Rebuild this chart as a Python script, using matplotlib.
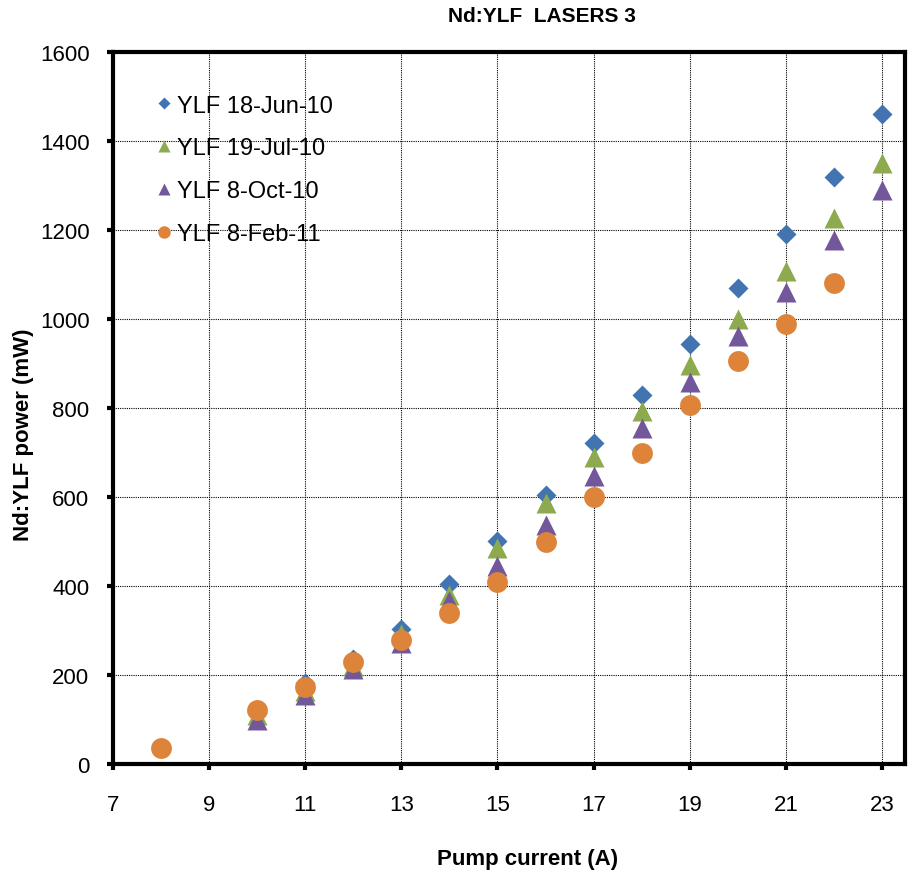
import numpy as np
import matplotlib
matplotlib.use('Agg')
import matplotlib.pyplot as plt

plt.rcParams['font.family'] = ['Liberation Sans', 'DejaVu Sans']

# data
x_jun = [10, 11, 12, 13, 14, 15, 16, 17, 18, 19, 20, 21, 22, 23]
p_jun = [115, 183, 237, 305, 406, 501, 606, 722, 830, 945, 1071, 1192, 1320, 1460]
x_jul = [10, 11, 12, 13, 14, 15, 16, 17, 18, 19, 20, 21, 22, 23]
p_jul = [110, 165, 222, 292, 380, 485, 588, 690, 793, 898, 1000, 1109, 1228, 1350]
x_oct = [10, 11, 12, 13, 14, 15, 16, 17, 18, 19, 20, 21, 22, 23]
p_oct = [100, 155, 215, 272, 366, 445, 538, 648, 756, 859, 962, 1061, 1178, 1290]
x_feb = [8, 10, 11, 12, 13, 14, 15, 16, 17, 18, 19, 20, 21, 22]
p_feb = [37, 122, 174, 229, 279, 341, 410, 500, 600, 700, 808, 905, 988, 1081]

labels = ['YLF 18-Jun-10', 'YLF 19-Jul-10', 'YLF 8-Oct-10', 'YLF 8-Feb-11']
xticks = [7, 9, 11, 13, 15, 17, 19, 21, 23]
yticks = [0, 200, 400, 600, 800, 1000, 1200, 1400, 1600]

fig = plt.figure(figsize=(9.09, 8.78), dpi=100)
ax = fig.add_axes([0.1243, 0.1283, 0.8713, 0.8113])

ax.plot(x_jun, p_jun, 'D', color='#4174B0', ms=10, mec='none', label=labels[0])
ax.plot(x_jul, p_jul, '^', color='#8DAA4E', ms=14, mec='none', label=labels[1])
ax.plot(x_oct, p_oct, '^', color='#72589A', ms=14, mec='none', label=labels[2])
ax.plot(x_feb, p_feb, 'o', color='#DD843A', ms=15, mec='none', label=labels[3])

ax.set_xlim(7, 23.48)
ax.set_ylim(0, 1600)
ax.set_xticks(xticks)
ax.set_yticks(yticks)
ax.grid(True, color='black', linestyle=(0, (1, 1)), linewidth=0.8)
ax.set_axisbelow(True)

for s in ax.spines.values():
    s.set_linewidth(3)
ax.tick_params(direction='out', length=4, width=3, labelsize=16)
ax.tick_params(axis='x', pad=17)
ax.tick_params(axis='y', pad=13)

ax.set_xlabel('Pump current (A)', fontsize=16, fontweight='bold', va='center')
ax.xaxis.set_label_coords(0.523, -0.132)
ax.set_ylabel('Nd:YLF power (mW)', fontsize=16, fontweight='bold',
              va='center', ha='center')
ax.yaxis.set_label_coords(-0.1136, 0.4635)
fig.text(542 / 909, 1 - 17 / 878, 'Nd:YLF  LASERS 3', fontsize=15,
         fontweight='bold', ha='center', va='center')

ax.legend(loc='upper left', bbox_to_anchor=(0.03, 0.97), frameon=False,
          fontsize=17, markerscale=0.6, handlelength=0.5, handletextpad=0.3,
          labelspacing=0.88)

fig.savefig('out.png', dpi=100)
